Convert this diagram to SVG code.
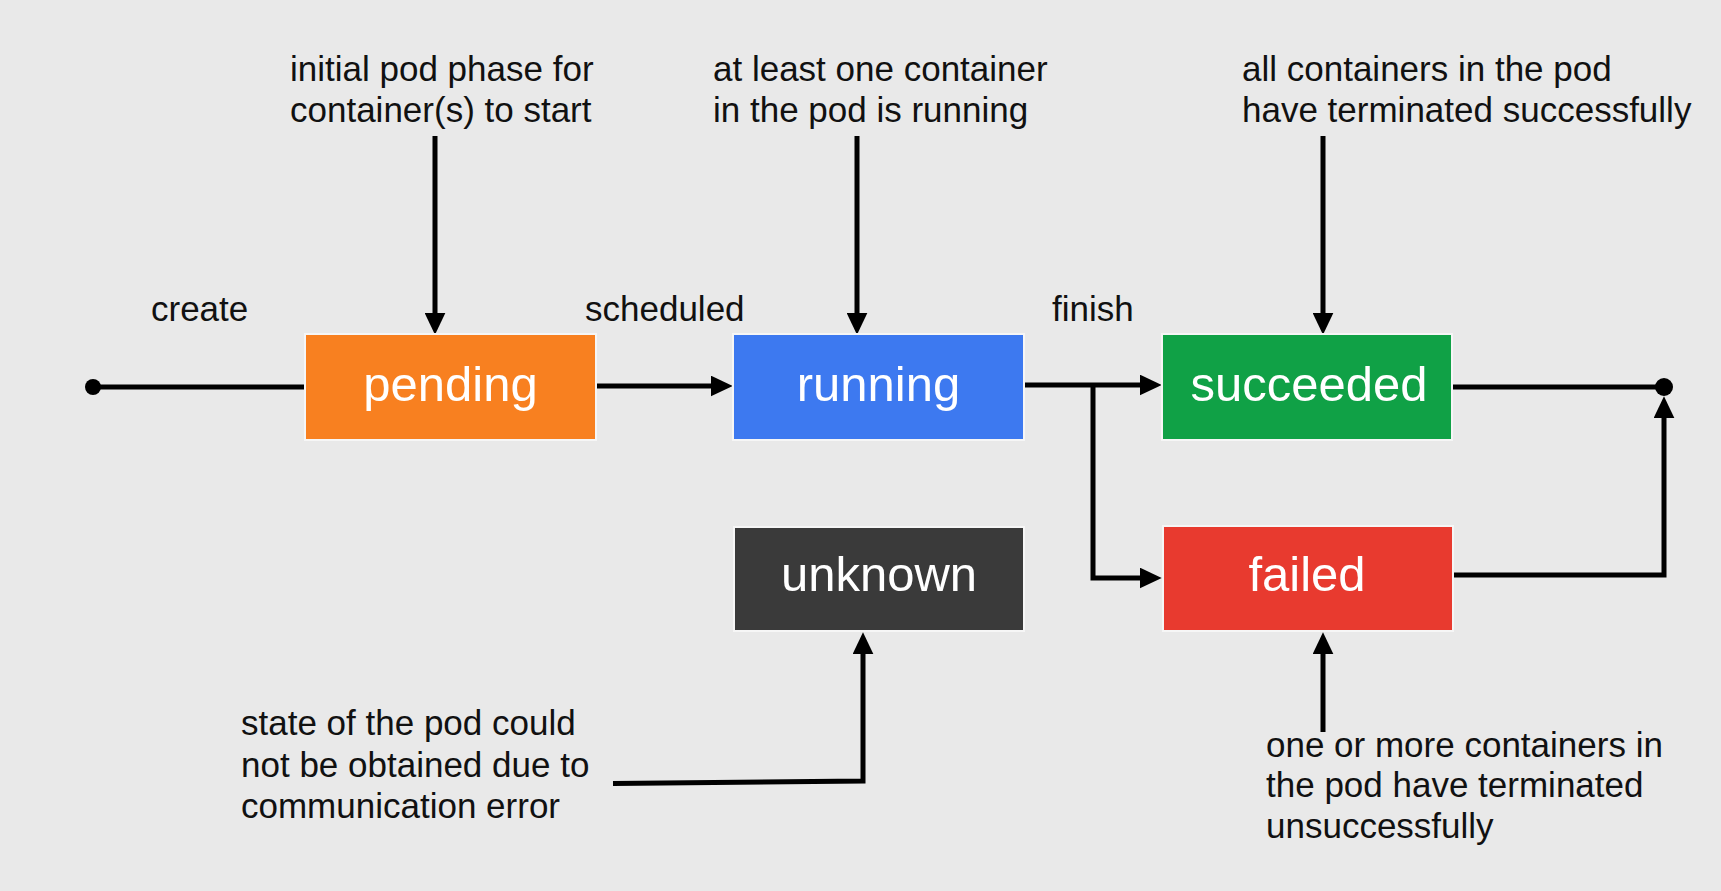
<svg xmlns="http://www.w3.org/2000/svg" width="1721" height="891" viewBox="0 0 1721 891">
  <style>
    .lbl { font-family: "Liberation Sans", Arial, sans-serif; font-size: 35px; fill: #111111; }
    .box { stroke: #f6f6f6; stroke-width: 2; }
    .boxtxt { font-family: "Liberation Sans", Arial, sans-serif; font-size: 49px; fill: #ffffff; text-anchor: middle; }
    .conn { fill: none; stroke: #000000; stroke-width: 5; stroke-linejoin: miter; }
  </style>
  <defs>
    <marker id="arr" markerUnits="userSpaceOnUse" markerWidth="22" markerHeight="21" viewBox="0 0 21 20" refX="6" refY="10" orient="auto">
      <path d="M0,0 L21,10 L0,20 z" fill="#000000"/>
    </marker>
  </defs>
  <rect x="0" y="0" width="1721" height="891" fill="#e9e9e9"/>

  <g id="connectors">
    <path class="conn" d="M93 387 H305"/>
    <path class="conn" d="M597 386 H717" marker-end="url(#arr)"/>
    <path class="conn" d="M1025 385 H1146" marker-end="url(#arr)"/>
    <path class="conn" d="M1093 385 V578 H1146" marker-end="url(#arr)"/>
    <path class="conn" d="M1452 387 H1664"/>
    <path class="conn" d="M1454 575 H1664 V412" marker-end="url(#arr)"/>
    <path class="conn" d="M435 136 V319" marker-end="url(#arr)"/>
    <path class="conn" d="M857 136 V319" marker-end="url(#arr)"/>
    <path class="conn" d="M1323 136 V319" marker-end="url(#arr)"/>
    <path class="conn" d="M1323 732 V648" marker-end="url(#arr)"/>
    <path class="conn" d="M613 783.5 L863 781 V648" marker-end="url(#arr)"/>
    <circle cx="93" cy="387" r="8" fill="#000000"/>
    <circle cx="1664" cy="387" r="9" fill="#000000"/>
  </g>

  <g id="pending">
    <rect class="box" x="305" y="334" width="291" height="106" fill="#f88020"/>
    <text class="boxtxt" x="450.5" y="401">pending</text>
  </g>
  <g id="running">
    <rect class="box" x="733" y="334" width="291" height="106" fill="#3d79f0"/>
    <text class="boxtxt" x="878.5" y="401">running</text>
  </g>
  <g id="succeeded">
    <rect class="box" x="1162" y="334" width="290" height="106" fill="#10a146"/>
    <text class="boxtxt" x="1309" y="401">succeeded</text>
  </g>
  <g id="unknown">
    <rect class="box" x="734" y="527" width="290" height="104" fill="#3a3a3a"/>
    <text class="boxtxt" x="879" y="591">unknown</text>
  </g>
  <g id="failed">
    <rect class="box" x="1163" y="526" width="290" height="105" fill="#e83a2f"/>
    <text class="boxtxt" x="1307" y="591">failed</text>
  </g>

  <g id="labels">
    <text class="lbl" x="151" y="321">create</text>
    <text class="lbl" x="585" y="321">scheduled</text>
    <text class="lbl" x="1052" y="321">finish</text>
    <text class="lbl" x="290" y="81">initial pod phase for</text>
    <text class="lbl" x="290" y="122">container(s) to start</text>
    <text class="lbl" x="713" y="81">at least one container</text>
    <text class="lbl" x="713" y="122">in the pod is running</text>
    <text class="lbl" x="1242" y="81">all containers in the pod</text>
    <text class="lbl" x="1242" y="122">have terminated successfully</text>
    <text class="lbl" x="241" y="735">state of the pod could</text>
    <text class="lbl" x="241" y="777">not be obtained due to</text>
    <text class="lbl" x="241" y="818">communication error</text>
    <text class="lbl" x="1266" y="757">one or more containers in</text>
    <text class="lbl" x="1266" y="797">the pod have terminated</text>
    <text class="lbl" x="1266" y="838">unsuccessfully</text>
  </g>
</svg>
